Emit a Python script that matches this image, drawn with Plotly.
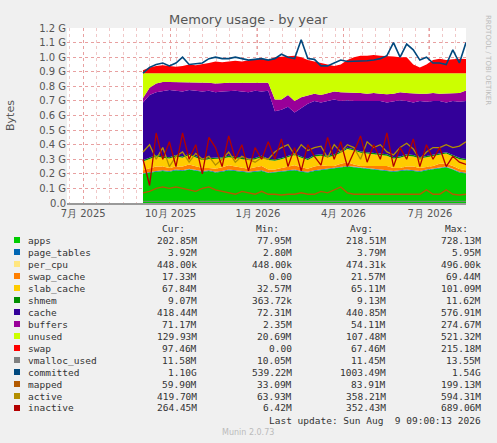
import plotly.graph_objects as go
import pandas as pd

start, end = "2025-09-02", "2026-08-08"
apps = [200,210,215,220,215,225,220,230,225,215,220,210,215,225,220,215,210,215,220,205,210,215,220,225,215,210,220,225,230,235,245,250,245,240,235,230,225,220,215,220,225,220,215,225,230,240,245,230,210,203]
page_tables = [4]*50
per_cpu = [0.45]*50
swap_cache = [20,25,30,25,20,20,25,30,25,20,15,20,25,30,25,20,20,25,30,20,15,20,25,30,25,20,25,30,20,15,20,25,15,10,15,20,25,30,20,15,20,25,20,15,20,25,20,20,18,17]
slab_cache = [60,65,70,60,65,70,60,65,60,55,60,65,60,55,60,65,60,55,60,65,60,60,65,70,65,60,70,65,60,70,75,90,95,90,85,80,75,70,65,70,75,70,65,70,65,60,70,65,68,68]
shmem = [9]*50
cache = [396.5,426.5,431.5,451.5,461.5,441.5,446.5,436.5,446.5,461.5,461.5,451.5,451.5,446.5,451.5,451.5,456.5,461.5,441.5,466.5,331.5,331.5,336.5,281.5,331.5,376.5,371.5,356.5,376.5,376.5,346.5,326.5,331.5,346.5,346.5,356.5,361.5,356.5,386.5,386.5,366.5,361.5,386.5,371.5,371.5,361.5,341.5,371.5,385.5,398.5]
buffers = [30,50,60,60,55,60,60,55,60,60,55,60,60,55,55,60,60,55,60,55,80,70,80,80,75,60,50,50,55,55,60,55,60,55,55,55,50,55,50,55,55,60,50,55,55,50,60,55,60,71]
unused = [170,100,70,60,60,60,65,60,60,65,65,70,65,65,65,65,70,65,65,65,180,180,150,190,165,150,140,150,135,125,130,130,130,135,140,135,140,145,140,130,135,140,140,140,135,140,140,135,135,119]
swap = [20,40,50,55,50,45,50,60,55,60,70,80,75,80,85,80,90,95,100,90,110,115,120,120,110,90,80,70,60,50,60,90,110,120,120,125,120,120,115,110,110,60,40,60,90,100,90,95,100,97]
vmalloc_used = [11.5]*50
committed = [890,930,950,960,940,960,1000,950,955,960,990,1000,990,990,1000,990,980,985,990,980,990,1020,1000,990,1120,990,985,940,940,960,980,970,970,975,975,980,990,1010,1100,1000,1090,1050,980,1000,960,960,950,1050,960,1100]
mapped = [70,80,100,110,100,110,100,90,80,100,110,90,80,70,60,80,70,60,80,60,60,55,60,60,70,60,60,80,70,90,110,70,60,60,60,60,60,60,60,60,60,60,60,90,60,60,90,60,55,60]
active = [350,400,300,380,250,320,350,280,340,300,320,260,300,350,280,320,300,280,310,300,350,380,400,330,400,360,380,390,310,400,350,400,380,300,420,380,400,350,330,380,410,370,300,350,380,380,400,380,390,420]
inactive = [300,120,480,300,420,250,480,300,400,200,450,380,250,460,300,400,220,380,300,420,300,440,250,380,220,400,320,260,450,300,420,250,350,460,280,400,300,480,250,380,300,440,250,400,300,380,250,320,280,264]

legend_rows = [
 ("apps","#00CC00","202.85M","77.95M","218.51M","728.13M"),
 ("page_tables","#0066B3","3.92M","2.80M","3.79M","5.95M"),
 ("per_cpu","#FFE680","448.00k","448.00k","474.31k","496.00k"),
 ("swap_cache","#FF8000","17.33M","0.00","21.57M","69.44M"),
 ("slab_cache","#FFCC00","67.84M","32.57M","65.11M","101.09M"),
 ("shmem","#008F00","9.07M","363.72k","9.13M","11.62M"),
 ("cache","#330099","418.44M","72.31M","440.85M","576.91M"),
 ("buffers","#990099","71.17M","2.35M","54.11M","274.67M"),
 ("unused","#CCFF00","129.93M","20.69M","107.48M","521.32M"),
 ("swap","#FF0000","97.46M","0.00","67.46M","215.18M"),
 ("vmalloc_used","#808080","11.58M","10.05M","11.45M","13.55M"),
 ("committed","#00487D","1.10G","539.22M","1003.49M","1.54G"),
 ("mapped","#B35A00","59.90M","33.09M","83.91M","199.13M"),
 ("active","#B38F00","419.70M","63.93M","358.21M","594.31M"),
 ("inactive","#B30000","264.45M","6.42M","352.43M","689.06M"),
]
col = {r[0]: r[1] for r in legend_rows}
x = pd.date_range(start, end, periods=50)

fig = go.Figure()
for name, vals in [("apps",apps),("page_tables",page_tables),("per_cpu",per_cpu),("swap_cache",swap_cache),
                   ("slab_cache",slab_cache),("shmem",shmem),("cache",cache),("buffers",buffers),
                   ("unused",unused),("swap",swap)]:
    fig.add_trace(go.Scatter(x=x, y=vals, stackgroup="s", mode="lines", line=dict(width=0, color=col[name]),
                             fillcolor=col[name], name=name, showlegend=False))
for name, vals, w in [("vmalloc_used",vmalloc_used,1),("committed",committed,1.6),("mapped",mapped,1.3),
                      ("active",active,1.3),("inactive",inactive,1.3)]:
    fig.add_trace(go.Scatter(x=x, y=vals, mode="lines", line=dict(width=w, color=col[name]), name=name, showlegend=False))

yt = [i*100 for i in range(13)]
fig.update_yaxes(range=[0,1200], tickvals=yt, ticktext=["0.0"]+[f"{v/1000:.1f} G" for v in yt[1:]],
                 showgrid=True, gridcolor="#E8A0A0", griddash="dot", gridwidth=1, zeroline=False, automargin=False,
                 tickfont=dict(family="DejaVu Sans", size=10, color="#555"), ticks="", showline=False,
                 title=dict(text="Bytes", font=dict(family="DejaVu Sans", size=11, color="#555"), standoff=22))
fig.update_xaxes(range=["2025-06-14","2026-08-08"], automargin=False,
                 tickvals=["2025-07-01","2025-10-01","2026-01-01","2026-04-01","2026-07-01"],
                 ticktext=["7月 2025","10月 2025","1月 2026","4月 2026","7月 2026"],
                 showgrid=True, gridcolor="#E8A0A0", griddash="dot",
                 minor=dict(dtick=14*86400000, showgrid=True, gridcolor="#F0C8C8", griddash="dot", tick0="2025-06-17"),
                 tickfont=dict(family="DejaVu Sans", size=10, color="#555"), ticks="", showline=True,
                 linecolor="#999", linewidth=2, zeroline=False)

L, R, T, B = 67, 31, 28, 240
W, H = 497, 443
def P(px, py):
    return (px-L)/(W-L-R), 1-(py-T)/(H-T-B)
shapes = []
annotations = []
def add(text, px, py, anchor="right", color="#333", size=9.5, fam="DejaVu Sans Mono"):
    xp, yp = P(px, py)
    annotations.append(dict(text=text, x=xp, y=yp, xref="paper", yref="paper", showarrow=False,
                            xanchor=anchor, yanchor="middle", font=dict(family=fam, size=size, color=color)))
for h, px in [("Cur:",187),("Min:",281),("Avg:",375),("Max:",470)]:
    add(h, px, 228)
for i, (name, c, cur, mn, av, mx) in enumerate(legend_rows):
    py = 240 + i*12
    add(name, 26, py, anchor="left")
    for v, px in [(cur,199),(mn,294),(av,388),(mx,483)]:
        add(v, px, py)
    x0, y0 = P(14, py-3); x1, y1 = P(20, py+3)
    shapes.append(dict(type="rect", xref="paper", yref="paper", x0=x0, x1=x1, y0=y0, y1=y1,
                       fillcolor=c, line=dict(width=0)))
add("Last update: Sun Aug  9 09:00:13 2026", 483, 420)
add("Munin 2.0.73", 248, 432, anchor="center", color="#BBBBBB", size=8, fam="DejaVu Sans")
add("Memory usage - by year", 248, 19, anchor="center", color="#555", size=13, fam="DejaVu Sans")
xp, yp = P(488, 60)
annotations.append(dict(text="RRDTOOL / TOBI OETIKER", x=xp, y=yp, xref="paper", yref="paper", showarrow=False,
                        textangle=90, xanchor="center", yanchor="middle",
                        font=dict(family="DejaVu Sans", size=7, color="#BBBBBB")))

fig.update_layout(width=W, height=H, margin=dict(l=L, r=R, t=T, b=B), paper_bgcolor="#F0F0F0",
                  plot_bgcolor="#FFFFFF", annotations=annotations, shapes=shapes, showlegend=False)
fig.write_html("out.html", config={"displayModeBar": False},
               post_script="document.body.style.margin='0';document.body.style.background='#F0F0F0';")
